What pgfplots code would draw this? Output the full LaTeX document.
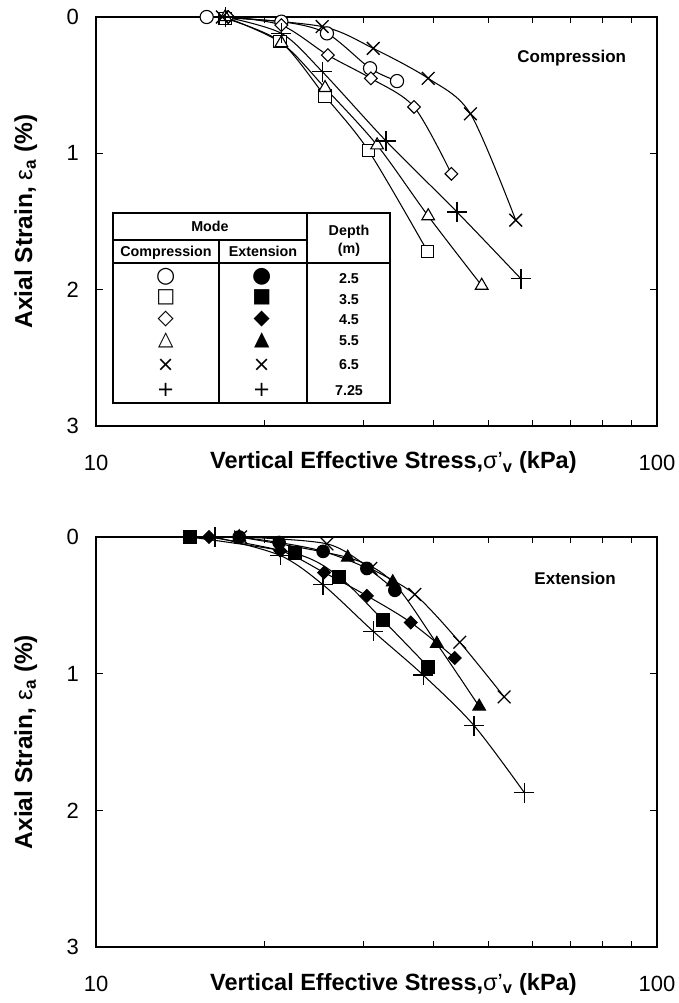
\documentclass[border=0pt]{standalone}
\usepackage{fontspec}
\setmainfont{Liberation Sans}
\newfontfamily\dejavu{DejaVu Sans}
\usepackage{pgfplots}
\pgfplotsset{compat=1.18}

\tikzset{
  ser/.style={black, line width=1.05pt, smooth},
  cC/.style={ser, mark=*, mark size=6.6pt, mark options={fill=white, draw=black, line width=1.1pt}},
  cS/.style={ser, mark=square*, mark size=6.3pt, mark options={fill=white, draw=black, line width=1.1pt}},
  cD/.style={ser, mark=square*, mark size=4.5pt, mark options={rotate=45, fill=white, draw=black, line width=1.1pt}},
  cT/.style={ser, mark=triangle*, mark size=7.3pt, mark options={fill=white, draw=black, line width=1.1pt}},
  cX/.style={ser, mark=x, mark size=9pt, mark options={line width=1.3pt}},
  cP/.style={ser, mark=+, mark size=10pt, mark options={line width=1.3pt}},
  eC/.style={ser, mark=*, mark size=6.3pt, mark options={fill=black, draw=black}},
  eS/.style={ser, mark=square*, mark size=6.5pt, mark options={fill=black, draw=black}},
  eD/.style={ser, mark=square*, mark size=4.5pt, mark options={rotate=45, fill=black, draw=black}},
  eT/.style={ser, mark=triangle*, mark size=7.3pt, mark options={fill=black, draw=black}},
  eX/.style={ser, mark=x, mark size=9pt, mark options={line width=1.3pt}},
  eP/.style={ser, mark=+, mark size=10pt, mark options={line width=1.3pt}},
}

\begin{document}
\begin{tikzpicture}
\useasboundingbox (0pt,0pt) rectangle (678pt,-1003pt);

% ---------------- Compression ----------------
\begin{axis}[
    scale only axis, width=561pt, height=409pt, at={(96pt,-426pt)}, anchor=south west,
    xmode=log, xmin=10, xmax=100, ymin=0, ymax=3, y dir=reverse,
    xtick={10,100}, xticklabels={10,100},
    minor xtick={20,30,40,50,60,70,80,90},
    ytick={0,1,2,3}, yticklabels={0,1,2,3},
    tick align=inside, major tick length=7pt, minor tick length=6pt,
    axis line style={line width=2.8pt, black},
    every tick/.style={black, line width=1.1pt},
    xticklabel style={font=\fontsize{22}{22}\selectfont, anchor=base, yshift=-44pt, inner sep=0pt},
    yticklabel style={font=\fontsize{22}{22}\selectfont, anchor=east, xshift=-17pt, inner sep=0pt},
    xlabel={Vertical Effective Stress,{\mdseries σ'}\textsubscript{v} (kPa)},
    ylabel={Axial Strain, {\mdseries ε}\textsubscript{a} (\%)},
    xlabel style={font=\bfseries\fontsize{23.5}{24}\selectfont, at={(axis description cs:0.857,-0.105)}, anchor=base east, inner sep=0pt},
    ylabel style={font=\bfseries\fontsize{24.5}{25}\selectfont, at={(axis description cs:-0.114,0.5)}, anchor=base, inner sep=0pt},
    clip=false,
]
\addplot[cC] coordinates {(15.75,0) (21.4,0.034) (25.8,0.12) (30.8,0.376) (34.4,0.47)};
\addplot[cS] coordinates {(17.0,0.01) (21.3,0.18) (25.6,0.58) (30.6,0.98) (39.0,1.72)};
\addplot[cD] coordinates {(17.2,0) (21.4,0.06) (25.9,0.28) (30.9,0.45) (36.9,0.66) (43.0,1.15)};
\addplot[cT] coordinates {(17.0,0) (21.4,0.19) (25.6,0.52) (31.7,0.94) (39.1,1.46) (48.7,1.97)};
\addplot[cX] coordinates {(16.8,0) (25.3,0.07) (31.2,0.23) (39.1,0.45) (46.5,0.71) (56.0,1.49)};
\addplot[cP] coordinates {(17.0,0) (21.4,0.12) (25.3,0.40) (32.9,0.91) (44.0,1.43) (57.2,1.92)};
\node[font=\bfseries\fontsize{17}{17}\selectfont] at (axis description cs:0.848,0.900) {Compression};
\end{axis}

% legend table
\begin{scope}[line width=1.1pt]
\draw[fill=white] (113pt,-213pt) rectangle (390pt,-403pt);
\draw (113pt,-240pt) -- (307pt,-240pt);
\draw (113pt,-263pt) -- (390pt,-263pt);
\draw (219pt,-240pt) -- (219pt,-403pt);
\draw (307pt,-213pt) -- (307pt,-403pt);
\end{scope}
\begin{scope}[every node/.style={font=\bfseries\fontsize{14.3}{15}\selectfont, inner sep=0pt, anchor=base}]
\node at (210pt,-231pt) {Mode};
\node at (166pt,-256pt) {Compression};
\node at (263pt,-256pt) {Extension};
\node at (349pt,-235pt) {Depth};
\node at (349pt,-253.5pt) {(m)};
\node at (349pt,-283pt) {2.5};
\node at (349pt,-304pt) {3.5};
\node at (349pt,-324pt) {4.5};
\node at (349pt,-345pt) {5.5};
\node at (349pt,-369pt) {6.5};
\node at (349pt,-395pt) {7.25};
\end{scope}
\begin{scope}[every node/.style={inner sep=0pt, anchor=center}]
\node[font=\dejavu\fontsize{22}{22}\selectfont] at (165.7pt,-277pt) {○};
\node[font=\dejavu\fontsize{20}{20}\selectfont] at (165.7pt,-297pt) {□};
\node[font=\dejavu\fontsize{21}{21}\selectfont] at (165.7pt,-318.7pt) {◇};
\node[font=\dejavu\fontsize{20}{20}\selectfont] at (165.7pt,-340pt) {△};
\node[font=\dejavu\fontsize{21}{21}\selectfont] at (165.7pt,-365pt) {×};
\node[font=\dejavu\fontsize{21}{21}\selectfont] at (165.7pt,-390pt) {+};
\node[font=\dejavu\fontsize{22}{22}\selectfont] at (261.7pt,-277pt) {●};
\node[font=\dejavu\fontsize{20}{20}\selectfont] at (261.7pt,-297pt) {■};
\node[font=\dejavu\fontsize{21}{21}\selectfont] at (261.7pt,-318.7pt) {◆};
\node[font=\dejavu\fontsize{20}{20}\selectfont] at (261.7pt,-340pt) {▲};
\node[font=\dejavu\fontsize{21}{21}\selectfont] at (261.7pt,-365pt) {×};
\node[font=\dejavu\fontsize{21}{21}\selectfont] at (261.7pt,-390pt) {+};
\end{scope}

% ---------------- Extension ----------------
\begin{axis}[
    scale only axis, width=561pt, height=410pt, at={(96pt,-947pt)}, anchor=south west,
    xmode=log, xmin=10, xmax=100, ymin=0, ymax=3, y dir=reverse,
    xtick={10,100}, xticklabels={10,100},
    minor xtick={20,30,40,50,60,70,80,90},
    ytick={0,1,2,3}, yticklabels={0,1,2,3},
    tick align=inside, major tick length=7pt, minor tick length=6pt,
    axis line style={line width=2.8pt, black},
    every tick/.style={black, line width=1.1pt},
    xticklabel style={font=\fontsize{22}{22}\selectfont, anchor=base, yshift=-44pt, inner sep=0pt},
    yticklabel style={font=\fontsize{22}{22}\selectfont, anchor=east, xshift=-17pt, inner sep=0pt},
    xlabel={Vertical Effective Stress,{\mdseries σ'}\textsubscript{v} (kPa)},
    ylabel={Axial Strain, {\mdseries ε}\textsubscript{a} (\%)},
    xlabel style={font=\bfseries\fontsize{23.5}{24}\selectfont, at={(axis description cs:0.857,-0.105)}, anchor=base east, inner sep=0pt},
    ylabel style={font=\bfseries\fontsize{24.5}{25}\selectfont, at={(axis description cs:-0.114,0.5)}, anchor=base, inner sep=0pt},
    clip=false,
]
\addplot[eC] coordinates {(18.0,0) (21.2,0.04) (25.4,0.105) (30.4,0.23) (34.1,0.39)};
\addplot[eS] coordinates {(14.7,0) (22.6,0.12) (27.1,0.29) (32.5,0.61) (39.1,0.95)};
\addplot[eD] coordinates {(15.9,0) (21.3,0.10) (25.5,0.26) (30.4,0.43) (36.4,0.625) (43.6,0.885)};
\addplot[eT] coordinates {(18.0,0) (28.1,0.15) (33.8,0.33) (40.5,0.78) (48.2,1.24)};
\addplot[eX] coordinates {(18.1,0) (25.8,0.05) (30.9,0.23) (37.0,0.42) (44.5,0.77) (53.4,1.17)};
\addplot[eP] coordinates {(16.3,0) (21.3,0.135) (25.4,0.35) (31.2,0.69) (38.3,1.01) (47.2,1.38) (58.0,1.87)};
\node[font=\bfseries\fontsize{17}{17}\selectfont] at (axis description cs:0.854,0.898) {Extension};
\end{axis}
\end{tikzpicture}
\end{document}
